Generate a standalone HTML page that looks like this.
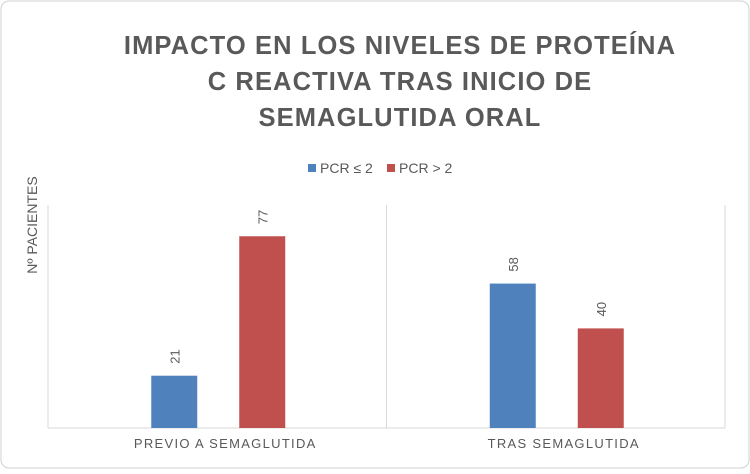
<!DOCTYPE html>
<html><head><meta charset="utf-8"><style>
html,body{margin:0;padding:0;background:#fff;}
body{width:750px;height:469px;overflow:hidden;font-family:"Liberation Sans",sans-serif;}
</style></head><body>
<svg width="750" height="469" xmlns="http://www.w3.org/2000/svg">
<rect x="1" y="1" width="748" height="467" rx="8" fill="#fff" stroke="#d0d0d0"/>
<g font-weight="bold" font-size="25.5" fill="#595959" text-anchor="middle" letter-spacing="1.1">
<text x="400" y="54">IMPACTO EN LOS NIVELES DE PROTEÍNA</text>
<text x="400" y="90">C REACTIVA TRAS INICIO DE</text>
<text x="400" y="126">SEMAGLUTIDA ORAL</text>
</g>
<g font-size="14" fill="#595959">
<rect x="308" y="164" width="8" height="8" fill="#4f81bd"/>
<text x="320" y="173">PCR ≤ 2</text>
<rect x="387" y="164" width="8" height="8" fill="#c0504d"/>
<text x="399" y="173">PCR &gt; 2</text>
</g>
<text transform="translate(37,225) rotate(-90)" text-anchor="middle" font-size="14" fill="#595959">Nº PACIENTES</text>
<g id="plot"></g>
</svg>
<script>
const categories = ["PREVIO A SEMAGLUTIDA", "TRAS SEMAGLUTIDA"];
const seriesLow = [21, 58];
const seriesHigh = [77, 40];
const plot = document.getElementById('plot');
const NS = 'http://www.w3.org/2000/svg';
const left = 48, right = 725, base = 428, top0 = 205;
const pxPerUnit = 2.49;
const y = v => base - v * pxPerUnit;
const groupW = (right - left) / categories.length;
const x = i => left + groupW * i;
function mk(tag, attrs){ const e = document.createElementNS(NS, tag); for (const k in attrs) e.setAttribute(k, attrs[k]); plot.appendChild(e); return e; }
for (let i = 0; i <= categories.length; i++) {
  const l = mk('line', {x1: x(i), x2: x(i), y1: top0, y2: base, stroke: '#d9d9d9'});
  
  
}
const ax = mk('line', {x1: left, x2: right, y1: base, y2: base, stroke: '#d9d9d9'});


const barW = 46;
const series = [{v: seriesLow, c: '#4f81bd', off: -44, n: 'pcr-le-2'}, {v: seriesHigh, c: '#c0504d', off: 44, n: 'pcr-gt-2'}];
categories.forEach((cat, i) => {
  const cx = x(i) + groupW / 2 + 1;
  series.forEach(s => {
    const bx = cx + s.off - barW / 2;
    const r = mk('rect', {x: bx, y: y(s.v[i]), width: barW, height: base - y(s.v[i]), fill: s.c});
    
    
    const tx = bx + barW / 2 + 5, ty = y(s.v[i]) - 12;
    const t = mk('text', {transform: `translate(${tx},${ty}) rotate(-90)`, 'font-size': 13, fill: '#595959'});
    t.textContent = s.v[i];
    
    
  });
  const lab = mk('text', {x: x(i) + groupW / 2 + 8, y: 448, 'text-anchor': 'middle', 'font-size': 13, fill: '#595959', 'letter-spacing': 1.3});
  lab.textContent = cat;
  
  
});
</script>
</body></html>
